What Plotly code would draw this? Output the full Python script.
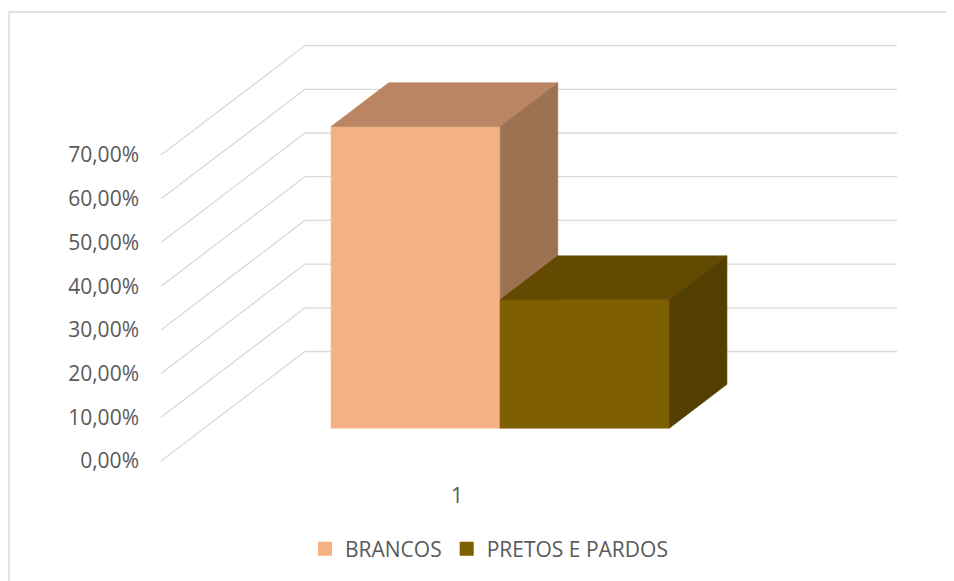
import plotly.graph_objects as go

# ---------------- data ----------------
CATEGORIES = ["1"]
SERIES = ["BRANCOS", "PRETOS E PARDOS"]
VALUES = [0.690, 0.294]
Y_TICKS = [0.0, 0.1, 0.2, 0.3, 0.4, 0.5, 0.6, 0.7]

FRONT_COLORS = ["#F4B183", "#7F6000"]
TOP_COLORS = ["#B98562", "#634A00"]
SIDE_COLORS = ["#9C7252", "#533F00"]

# ---------------- page / geometry ----------------
PAGE_W, PAGE_H = 954, 581
BODY_MARGIN = 8            # default page margin around the plot div
W, H = PAGE_W - BODY_MARGIN, PAGE_H - BODY_MARGIN


def fx(px):                # window pixel -> figure pixel
    return px - BODY_MARGIN


FLOOR_LEFT_PX = fx(161.0)  # front-left corner of floor
FLOOR_WIDTH_PX = 592.0     # width of one category on the front edge
ZERO_PX = fx(461.0)        # pixel y of 0 at the front
UNIT_PX = 437.0            # pixels per 100%
DEPTH_DX_PX = 144.0        # horizontal shift from front to back wall
DEPTH_DY_PX = 109.5        # vertical shift from front to back wall

GAP_WIDTH = 1.5            # 150% gap width
BAR_D0, BAR_D1 = 0.3, 0.7  # bar depth span (fraction of floor depth)

DX = DEPTH_DX_PX / FLOOR_WIDTH_PX
DV = DEPTH_DY_PX / UNIT_PX

x_range = [0.5 - FLOOR_LEFT_PX / FLOOR_WIDTH_PX,
           0.5 + (W - FLOOR_LEFT_PX) / FLOOR_WIDTH_PX]
y_range = [-(H - ZERO_PX) / UNIT_PX, ZERO_PX / UNIT_PX]


def proj(x, v, d):
    return x + d * DX, v + d * DV


def poly(points):
    xs, ys = [], []
    for (x, v, d) in points:
        px, py = proj(x, v, d)
        xs.append(px)
        ys.append(py)
    xs.append(xs[0])
    ys.append(ys[0])
    return xs, ys


fig = go.Figure()

# gridlines: left wall + back wall
gx, gy = [], []
n_cat = len(CATEGORIES)
for t in Y_TICKS:
    for (x, d) in [(0.5, 0), (0.5, 1), (0.5 + n_cat, 1)]:
        px, py = proj(x, t, d)
        gx.append(px)
        gy.append(py)
    gx.append(None)
    gy.append(None)
fig.add_trace(go.Scatter(x=gx, y=gy, mode="lines",
                         line=dict(color="#D9D9D9", width=1.3),
                         hoverinfo="skip", showlegend=False))

# bars
n_ser = len(SERIES)
bw = 1.0 / (n_ser + GAP_WIDTH)
for ci, cat in enumerate(CATEGORIES):
    center = ci + 1
    start = center - 0.5 + (GAP_WIDTH / 2) * bw
    for si, name in enumerate(SERIES):
        val = VALUES[si]
        x0 = start + si * bw
        x1 = x0 + bw
        faces = [
            ([(x0, 0, BAR_D0), (x1, 0, BAR_D0), (x1, val, BAR_D0), (x0, val, BAR_D0)], FRONT_COLORS[si]),
            ([(x0, val, BAR_D0), (x1, val, BAR_D0), (x1, val, BAR_D1), (x0, val, BAR_D1)], TOP_COLORS[si]),
            ([(x1, 0, BAR_D0), (x1, 0, BAR_D1), (x1, val, BAR_D1), (x1, val, BAR_D0)], SIDE_COLORS[si]),
        ]
        for pts, col in faces:
            xs, ys = poly(pts)
            fig.add_trace(go.Scatter(
                x=xs, y=ys, mode="lines", fill="toself", fillcolor=col,
                line=dict(color=col, width=0.6),
                name=name, legendgroup=name, showlegend=False,
                hoverinfo="text", text=f"{name}: {val*100:.2f}%".replace(".", ",")))

# legend entries
for si, name in enumerate(SERIES):
    fig.add_trace(go.Scatter(
        x=[None], y=[None], mode="markers", name=name, legendgroup=name,
        marker=dict(symbol="square", size=14, color=FRONT_COLORS[si])))

TEXT = "#595959"
FONT = "Open Sans"

fig.update_layout(
    width=W, height=H,
    margin=dict(l=0, r=0, t=0, b=0),
    paper_bgcolor="white", plot_bgcolor="white",
    separators=",.",
    font=dict(family=FONT, size=21, color=TEXT),
    xaxis=dict(range=x_range, showgrid=False, zeroline=False, showline=False,
               tickmode="array", tickvals=[i + 1 for i in range(n_cat)],
               ticktext=CATEGORIES, ticks="", anchor="free",
               position=(H - fx(481)) / H, automargin=False, fixedrange=True,
               tickfont=dict(size=21, color=TEXT)),
    yaxis=dict(range=y_range, showgrid=False, zeroline=False, showline=False,
               tickmode="array", tickvals=Y_TICKS, tickformat=".2%",
               ticks="", anchor="free", position=fx(139) / W,
               automargin=False, fixedrange=True,
               tickfont=dict(size=21, color=TEXT)),
    showlegend=True,
    legend=dict(orientation="h", x=fx(489) / W, xanchor="center",
                y=(H - fx(549)) / H, yanchor="middle",
                font=dict(size=21, color=TEXT), bgcolor="rgba(0,0,0,0)",
                traceorder="normal"),
    shapes=[dict(type="rect", xref="paper", yref="paper",
                 x0=fx(9) / W, y0=1 - fx(12) / H, x1=1.02, y1=-0.02,
                 line=dict(color="#D9D9D9", width=1.3), fillcolor="rgba(0,0,0,0)")],
)

fig.write_html("out.html")
